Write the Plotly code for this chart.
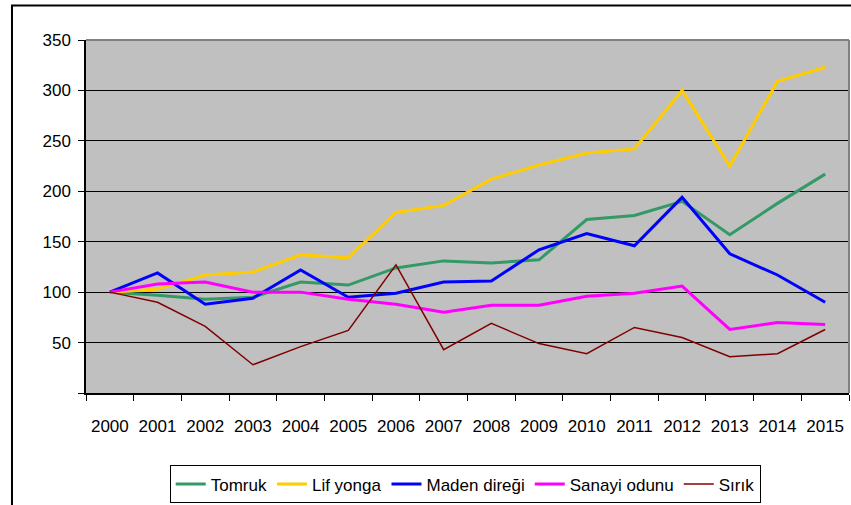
import plotly.graph_objects as go

years = [str(y) for y in range(2000, 2016)]
tomruk = [100, 97, 93, 95, 110, 107, 124, 131, 129, 132, 172, 176, 190, 157, 188, 217]
lif_yonga = [100, 103, 117, 120, 137, 134, 179, 186, 212, 226, 238, 242, 300, 225, 309, 323]
maden_diregi = [100, 119, 88, 94, 122, 95, 99, 110, 111, 142, 158, 146, 194, 138, 117, 90]
sanayi_odunu = [100, 108, 110, 100, 100, 93, 88, 80, 87, 87, 96, 99, 106, 63, 70, 68]
sirik = [100, 90, 66, 28, 46, 62, 127, 43, 69, 49, 39, 65, 55, 36, 39, 63]

names = ["Tomruk", "Lif yonga", "Maden direği", "Sanayi odunu", "Sırık"]
colors = ["#339966", "#FFCC00", "#0000FF", "#FF00FF", "#800000"]
widths = [3, 3, 3, 3, 1.5]
series = [tomruk, lif_yonga, maden_diregi, sanayi_odunu, sirik]

yticks = [0, 50, 100, 150, 200, 250, 300, 350]
ytext = ["", "50", "100", "150", "200", "250", "300", "350"]

fig = go.Figure()
for n, c, w, s in zip(names, colors, widths, series):
    fig.add_trace(go.Scatter(x=years, y=s, name=n, mode="lines",
                             line=dict(color=c, width=w)))

font = "Arial, Liberation Sans, sans-serif"
fig.update_layout(
    width=851, height=505,
    margin=dict(l=86, r=2, t=40, b=108),
    paper_bgcolor="white",
    plot_bgcolor="#C0C0C0",
    font=dict(family=font, size=17, color="black"),
    showlegend=True,
    legend=dict(orientation="h", x=0.497, xanchor="center", y=-0.205, yanchor="top",
                bgcolor="white", bordercolor="black", borderwidth=1,
                font=dict(family=font, size=17, color="black"),
                itemwidth=30, tracegroupgap=0),
    xaxis=dict(type="category", range=[-0.5, 15.5], tickson="boundaries",
               ticks="outside", ticklen=6, tickcolor="black", tickwidth=1,
               showline=True, linecolor="black", linewidth=1.5,
               showgrid=False, zeroline=False, fixedrange=True, automargin=False,
               ticklabelstandoff=17, tickfont=dict(size=17)),
    yaxis=dict(range=[0, 350], tickvals=yticks, ticktext=ytext,
               ticks="outside", ticklen=6, tickcolor="black", tickwidth=1,
               showline=True, linecolor="black", linewidth=1.5,
               showgrid=True, gridcolor="black", gridwidth=1,
               zeroline=False, fixedrange=True, automargin=False,
               ticklabelstandoff=4, tickfont=dict(size=17)),
    shapes=[
        dict(type="line", xref="paper", yref="paper", x0=0, x1=1, y0=1, y1=1,
             line=dict(color="#808080", width=2), layer="above"),
        dict(type="line", xref="paper", yref="paper", x0=1, x1=1, y0=0, y1=1,
             line=dict(color="#808080", width=2), layer="above"),
        dict(type="rect", xref="paper", yref="paper", x0=-0.097, x1=1.1, y0=-0.4, y1=1.098,
             line=dict(color="black", width=2), layer="below"),
    ],
)

fig.write_html("out.html", config={"displayModeBar": False},
               post_script="document.body.style.margin='0';document.body.style.overflow='hidden';")
